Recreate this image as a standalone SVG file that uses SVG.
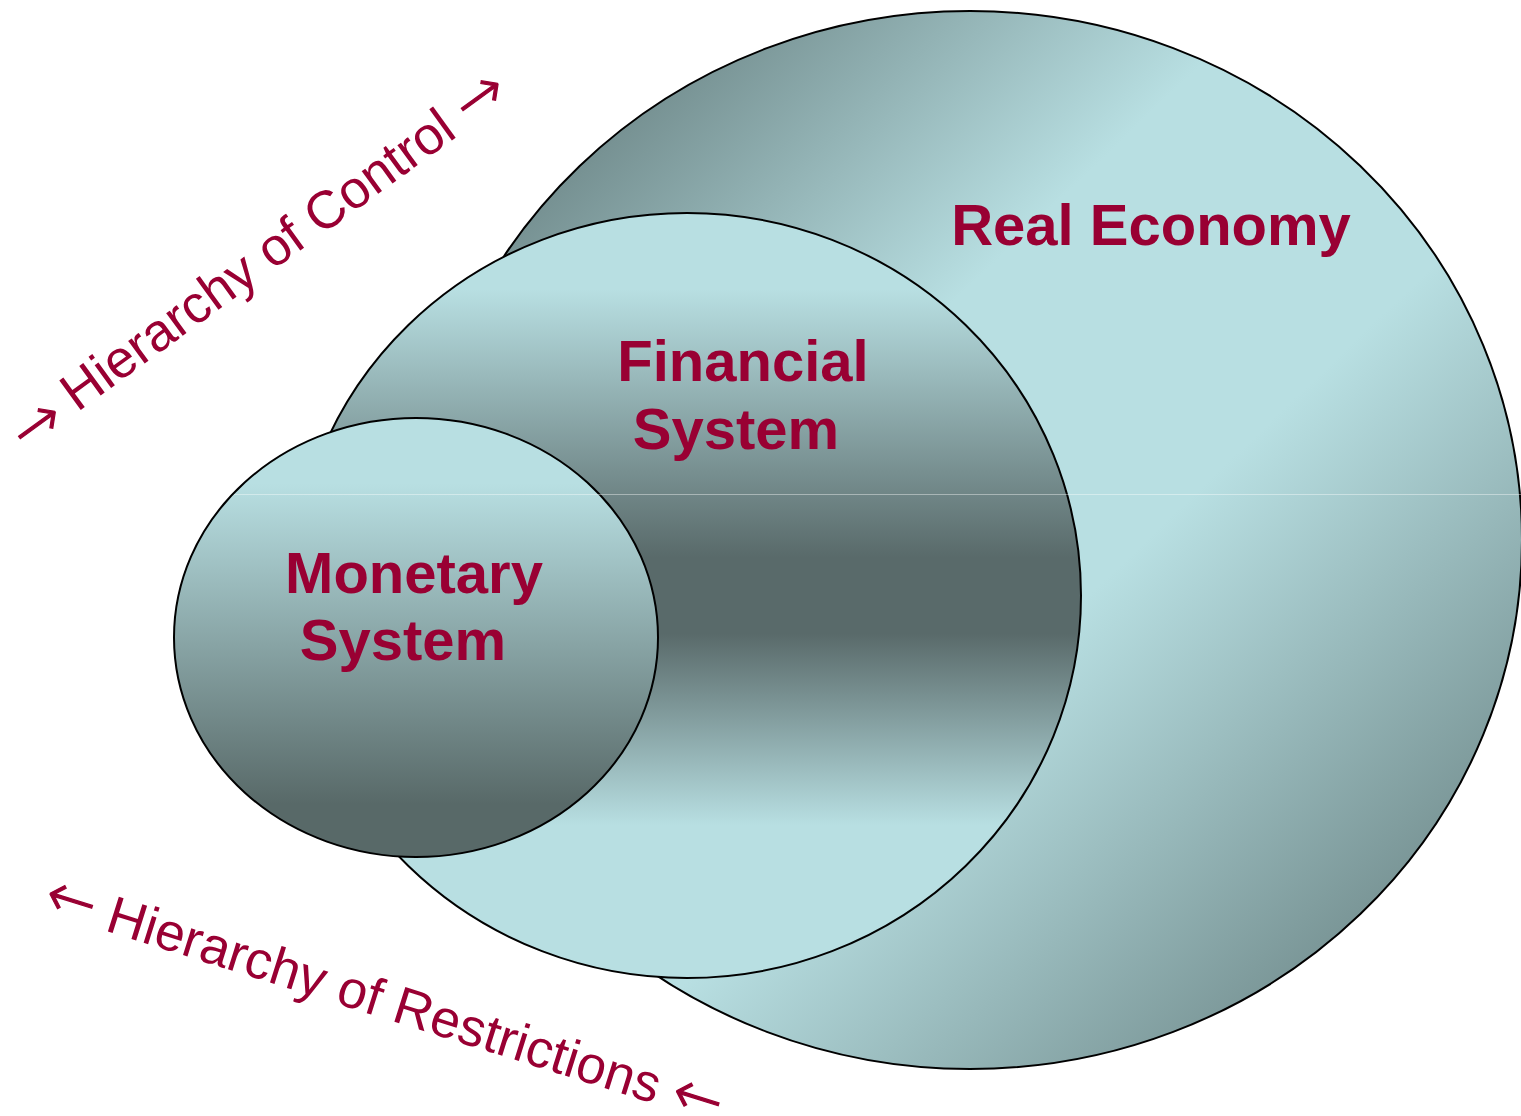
<svg xmlns="http://www.w3.org/2000/svg" width="1521" height="1116" viewBox="0 0 1521 1116">
  <defs>
    <linearGradient id="gradReal" x1="0" y1="0" x2="1" y2="1">
      <stop offset="0" stop-color="#4d6060"/>
      <stop offset="0.38" stop-color="#b8dfe2"/>
      <stop offset="0.58" stop-color="#b8dfe2"/>
      <stop offset="1" stop-color="#5a7070"/>
    </linearGradient>
    <linearGradient id="gradFinancial" x1="0" y1="0" x2="0" y2="1">
      <stop offset="0" stop-color="#b8dfe2"/>
      <stop offset="0.1" stop-color="#b8dfe2"/>
      <stop offset="0.45" stop-color="#596a6a"/>
      <stop offset="0.55" stop-color="#596a6a"/>
      <stop offset="0.8" stop-color="#b8dfe2"/>
      <stop offset="1" stop-color="#b8dfe2"/>
    </linearGradient>
    <linearGradient id="gradMonetary" x1="0" y1="0" x2="0" y2="1">
      <stop offset="0" stop-color="#b8dfe2"/>
      <stop offset="0.15" stop-color="#b8dfe2"/>
      <stop offset="0.88" stop-color="#586968"/>
      <stop offset="1" stop-color="#586968"/>
    </linearGradient>
  </defs>
  <style>
    .ring { stroke: #000000; stroke-width: 2; }
    .label { font-family: "Liberation Sans", Arial, sans-serif; font-weight: bold; font-size: 58px; fill: #990033; text-anchor: middle; }
    .hier { font-family: "Liberation Sans", Arial, sans-serif; font-size: 53px; fill: #990033; text-anchor: middle; }
    .arw { font-family: "DejaVu Sans", sans-serif; font-size: 60px; font-weight: 200; stroke: #990033; stroke-width: 1.2; }
  </style>

  <rect x="0" y="0" width="1521" height="1116" fill="#ffffff"/>

  <!-- outermost sphere -->
  <g id="real-economy">
    <ellipse class="ring" cx="970" cy="540" rx="552" ry="529" fill="url(#gradReal)"/>
    <text class="label" x="1151" y="245">Real Economy</text>
  </g>

  <!-- middle sphere -->
  <g id="financial-system">
    <ellipse class="ring" cx="687" cy="595.5" rx="394" ry="382.5" fill="url(#gradFinancial)"/>
    <text class="label" x="743" y="381">Financial</text>
    <text class="label" x="736" y="449">System</text>
  </g>

  <!-- innermost sphere -->
  <g id="monetary-system">
    <ellipse class="ring" cx="416" cy="637.5" rx="242" ry="219.5" fill="url(#gradMonetary)"/>
    <text class="label" x="414" y="593">Monetary</text>
    <text class="label" x="403" y="660">System</text>
  </g>

  <!-- faint horizontal seam across the spheres -->
  <line x1="234" y1="494.5" x2="1521" y2="494.5" stroke="#ffffff" stroke-opacity="0.4" stroke-width="1"/>

  <!-- hierarchy annotations -->
  <g id="connectors">
    <text class="hier" transform="translate(268 274) rotate(-36)"><tspan class="arw" dy="5">→</tspan><tspan dy="-5"> Hierarchy of Control </tspan><tspan class="arw">→</tspan></text>
    <text class="hier" transform="translate(379 1017) rotate(17.5)"><tspan class="arw">←</tspan> Hierarchy of Restrictions <tspan class="arw">←</tspan></text>
  </g>
</svg>
